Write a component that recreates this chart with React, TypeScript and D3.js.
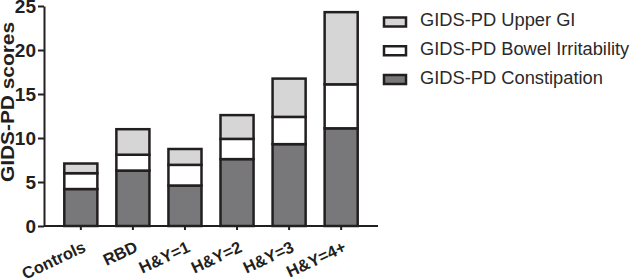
import React, { useRef, useEffect } from 'react';
import * as d3 from 'd3';

// groups on the x axis
const groups = ['Controls', 'RBD', 'H&Y=1', 'H&Y=2', 'H&Y=3', 'H&Y=4+'];
// stacked sub-scores
const constipation = [4.2, 6.3, 4.6, 7.6, 9.3, 11.1];
const bowelIrritability = [1.8, 1.8, 2.35, 2.3, 3.1, 5.0];
const upperGI = [1.1, 2.9, 1.8, 2.7, 4.35, 8.2];
const yTicks = [0, 5, 10, 15, 20, 25];

const seriesNames = ['GIDS-PD Constipation', 'GIDS-PD Bowel Irritability', 'GIDS-PD Upper GI'];
const seriesColors = ['#78787b', '#ffffff', '#d6d6d6'];

const App = () => {
    const chartRef = useRef<SVGSVGElement>(null);

    useEffect(() => {
        const svgEl = d3.select(chartRef.current);
        svgEl.selectAll('*').remove();

        const left = 44, right = 378, top = 6, bottom = 226;
        const ink = '#231f20';
        const font = 'Liberation Sans, Arial, sans-serif';

        const rows = groups.map((g, i) => ({
            group: g,
            c: constipation[i],
            b: bowelIrritability[i],
            u: upperGI[i],
        }));
        const stack = d3.stack<any>().keys(['c', 'b', 'u'])(rows);

        const x = d3.scaleBand().domain(groups).range([left, right]).paddingInner(0.365).paddingOuter(0.39);
        const y = d3.scaleLinear().domain([0, 25]).range([bottom, top]);

        // bars
        stack.forEach((layer, li) => {
            svgEl.append('g')
                .selectAll('rect')
                .data(layer)
                .enter()
                .append('rect')
                .attr('x', (d: any) => x(d.data.group)!)
                .attr('y', (d) => y(d[1]))
                .attr('width', x.bandwidth())
                .attr('height', (d) => y(d[0]) - y(d[1]))
                .style('fill', seriesColors[li])
                .style('stroke', ink)
                .style('stroke-width', 2.5);
        });

        // y axis
        const yAxis = svgEl.append('g')
            .attr('transform', `translate(${left},0)`)
            .call(d3.axisLeft(y).tickValues(yTicks).tickSize(6).tickPadding(2).tickSizeOuter(0));
        yAxis.select('.domain').style('stroke', ink).style('stroke-width', 2);
        yAxis.selectAll('line').style('stroke', ink).style('stroke-width', 2);
        yAxis.selectAll('text')
            .style('font-family', font)
            .style('font-size', '19px')
            .style('font-weight', 'bold')
            .style('fill', ink)
            .attr('dy', '0.36em');

        // x axis
        const xAxis = svgEl.append('g')
            .attr('transform', `translate(0,${bottom})`)
            .call(d3.axisBottom(x).tickSize(4).tickSizeOuter(0));
        xAxis.select('.domain').attr('d', `M${left},0H${right}`).style('stroke', ink).style('stroke-width', 2);
        xAxis.selectAll('line').style('stroke', ink).style('stroke-width', 2);
        xAxis.selectAll('text')
            .attr('y', 0)
            .attr('dy', 0)
            .attr('transform', 'translate(6,25) rotate(-25)')
            .style('text-anchor', 'end')
            .style('font-family', font)
            .style('font-size', '16.5px')
            .style('font-weight', 'bold')
            .style('fill', ink);

        // y label
        svgEl.append('text')
            .attr('transform', `translate(14,102) rotate(-90)`)
            .attr('text-anchor', 'middle')
            .attr('textLength', 160)
            .attr('lengthAdjust', 'spacingAndGlyphs')
            .style('font-family', font)
            .style('font-size', '17.5px')
            .style('font-weight', 'bold')
            .style('fill', ink)
            .text('GIDS-PD scores');

        // legend, top item is Upper GI
        const legendOrder = [2, 1, 0];
        const legendY = d3.scalePoint<number>().domain(legendOrder).range([22, 79.5]);
        const legend = svgEl.append('g')
            .selectAll('g')
            .data(legendOrder)
            .enter()
            .append('g')
            .attr('transform', (d) => `translate(0,${legendY(d)})`);
        legend.append('rect')
            .attr('x', 384)
            .attr('y', -4.5)
            .attr('width', 22)
            .attr('height', 9)
            .style('fill', (d) => seriesColors[d])
            .style('stroke', ink)
            .style('stroke-width', 2.5);
        legend.append('text')
            .attr('x', 420)
            .attr('y', 4)
            .style('font-family', font)
            .style('font-size', '18.3px')
            .style('fill', '#2a2a2a')
            .text((d) => seriesNames[d]);
    }, []);

    return <svg ref={chartRef} width={630} height={280} style={{ display: 'block', position: 'absolute', left: 0, top: 0 }}></svg>;
};

export default App;
